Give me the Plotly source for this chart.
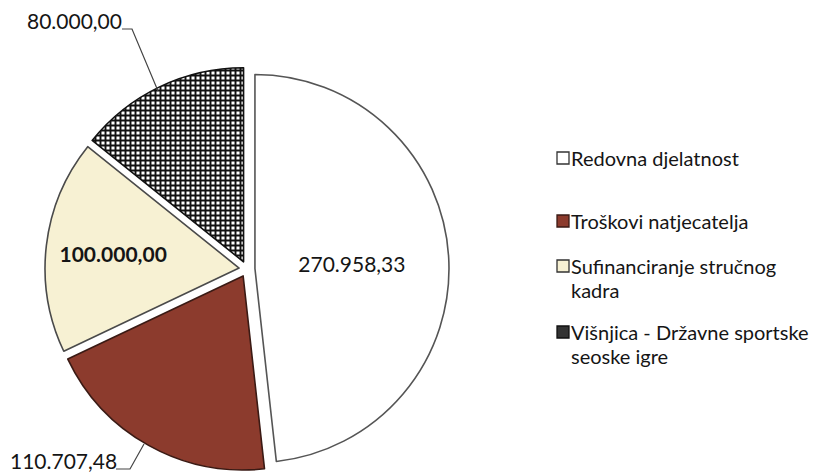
import plotly.graph_objects as go

labels = ["Redovna djelatnost", "Troškovi natjecatelja", "Sufinanciranje stručnog kadra",
          "Višnjica - Državne sportske seoske igre"]
legend_lines = [["Redovna djelatnost"], ["Troškovi natjecatelja"],
                ["Sufinanciranje stručnog", "kadra"],
                ["Višnjica - Državne sportske", "seoske igre"]]
values = [270958.33, 110707.48, 100000.00, 80000.00]
colors = ["#ffffff", "#8c3b2d", "#f7f1d3", "#ffffff"]
line_colors = ["#555555", "#3a1a14", "#4a4a4a", "#111111"]

W, H = 832, 475
FONT = "Lato"
TXT = "#151515"

# pie geometry (pixels)
CX, CY, R_OUT, PULL = 239, 261, 202, 0.041


def fmt(v):
    s = f"{v:,.2f}"
    return s.replace(",", "X").replace(".", ",").replace("X", ".")


def px(x, y):
    return x / W, 1 - y / H


fig = go.Figure()
fig.add_trace(go.Pie(
    labels=labels, values=values, sort=False, direction="clockwise", rotation=0,
    pull=[PULL] * 4,
    marker=dict(colors=colors, line=dict(color=line_colors, width=1.6),
                pattern=dict(shape=["", "", "", "+"], fgcolor="#111111", bgcolor="#ffffff",
                             size=5, solidity=0.62)),
    texttemplate=["%{value:,.2f}", "", "<b>%{value:,.2f}</b>", ""],
    textposition="inside", insidetextorientation="horizontal",
    textfont=dict(family=FONT, size=21, color=TXT),
    domain=dict(x=[(CX - R_OUT) / W, (CX + R_OUT) / W],
                y=[(H - CY - R_OUT) / H, (H - CY + R_OUT) / H]),
    showlegend=False, hoverinfo="label+value",
))

annotations = []
shapes = []
# outside labels with leader lines
for val, (lx, ly) in ((values[3], (17, 12)), (values[1], (0, 452))):
    x0, y0 = px(lx, ly)
    annotations.append(dict(text=fmt(val), x=x0, y=y0, xref="paper", yref="paper",
                            xanchor="left", yanchor="middle", showarrow=False,
                            font=dict(family=FONT, size=21, color=TXT)))


def path(pts):
    return "M " + " L ".join(f"{a},{b}" for a, b in pts)


for pts in ([(114, 21), (124, 21), (150, 83)], [(108, 461), (122, 461), (136, 436)]):
    p = [px(a, b) for a, b in pts]
    shapes.append(dict(type="path", xref="paper", yref="paper", path=path(p),
                       line=dict(color="#444444", width=1.2)))

# legend
leg_y = [[150], [213], [258, 282], [324, 348]]
sq_fill = ["#ffffff", "#8c3b2d", "#f7f1d3", "#333333"]
sq_line = ["#333333", "#3a1a14", "#333333", "#111111"]
for i, lines in enumerate(leg_y):
    yc = lines[0]
    a = px(549, yc - 6)
    b = px(561, yc + 6)
    shapes.append(dict(type="rect", xref="paper", yref="paper", x0=a[0], y0=b[1], x1=b[0], y1=a[1],
                       fillcolor=sq_fill[i], line=dict(color=sq_line[i], width=1.3)))
    for j, yy in enumerate(lines):
        x0, y0 = px(561, yy)
        annotations.append(dict(text=legend_lines[i][j], x=x0, y=y0, xref="paper", yref="paper",
                                xanchor="left", yanchor="middle", showarrow=False,
                                font=dict(family=FONT, size=20, color=TXT)))

fig.update_layout(
    width=W, height=H, margin=dict(l=0, r=0, t=0, b=0),
    paper_bgcolor="white", plot_bgcolor="white",
    separators=",.", annotations=annotations, shapes=shapes,
)
fig.write_html("out.html")
